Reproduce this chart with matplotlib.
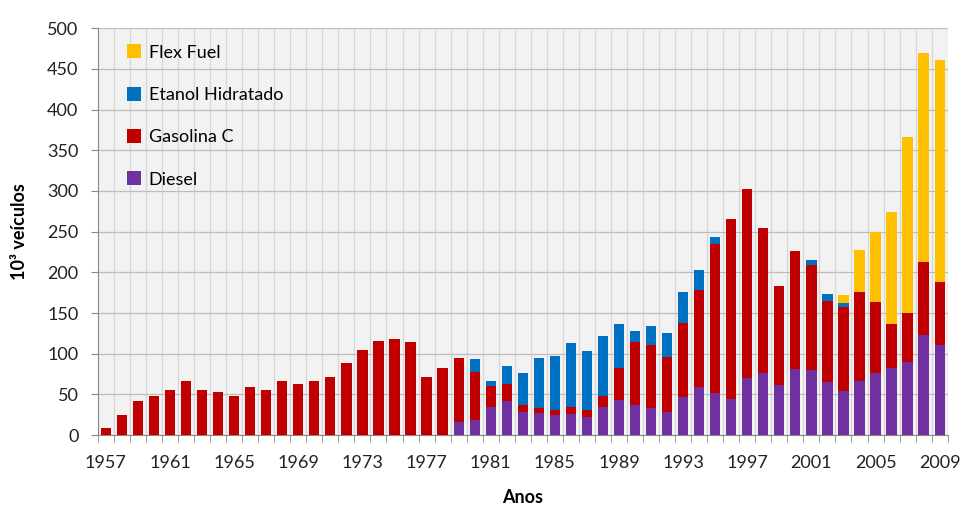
import numpy as np
import matplotlib.pyplot as plt

years = np.arange(1957, 2010)

diesel = [0, 0, 0, 0, 0, 0, 0, 0, 0, 0, 0, 0, 0, 0, 0, 0, 0, 0, 0, 0, 0, 0,
          16, 19, 35, 42, 29, 27, 25, 26, 22, 35, 43, 37, 34, 29, 47, 59, 52,
          45, 70, 77, 62, 81, 80, 65, 54, 67, 77, 82, 90, 123, 111]
gasolina_total = [9, 25, 42, 48, 55, 66, 55, 53, 48, 59, 55, 66, 63, 66, 72, 89,
                  105, 116, 118, 114, 71, 83, 95, 78, 60, 63, 37, 33, 31, 35, 31,
                  48, 82, 115, 111, 96, 138, 178, 235, 266, 303, 254, 183, 226,
                  209, 165, 158, 176, 164, 137, 150, 213, 188]
etanol_total = [0] * 23 + [93, 67, 85, 77, 95, 97, 113, 104, 122, 136, 128, 134,
                           126, 176, 203, 244, 266, 303, 254, 183, 226, 215, 174,
                           163, 176, 164, 137, 150, 213, 188]
flex_total = [0] * 46 + [172, 227, 250, 274, 366, 470, 461]

diesel = np.array(diesel)
gasolina = np.array(gasolina_total) - diesel
etanol = np.array(etanol_total) - np.array(gasolina_total)
etanol[:23] = 0
flex = np.array(flex_total) - np.array(etanol_total)
flex[:46] = 0

plt.rcParams['font.family'] = ['Lato', 'DejaVu Sans']

fig = plt.figure(figsize=(9.69, 5.12), dpi=100)
ax = fig.add_axes([0.101, 0.150, 0.877, 0.795])
ax.set_facecolor('#F2F2F2')

w = 0.64
ax.bar(years, diesel, w, color='#7030A0', label='Diesel', zorder=3)
ax.bar(years, gasolina, w, bottom=diesel, color='#C00000', label='Gasolina C', zorder=3)
ax.bar(years, etanol, w, bottom=diesel + gasolina, color='#0070C0',
       label='Etanol Hidratado', zorder=3)
ax.bar(years, flex, w, bottom=diesel + gasolina + etanol, color='#FFC000',
       label='Flex Fuel', zorder=3)

ax.set_xlim(1956.5, 2009.5)
ax.set_ylim(0, 500)
ax.set_yticks(np.arange(0, 501, 50))
ax.set_xticks(np.arange(1957, 2010, 4))
ax.set_xticks(np.arange(1956.5, 2010, 1), minor=True)
ax.grid(axis='y', color='#BDBDBD', linewidth=0.9, zorder=1)
ax.grid(axis='x', which='minor', color='#D6D6D6', linewidth=0.9, zorder=1)

ax.tick_params(axis='both', labelsize=13, colors='#222222')
ax.tick_params(axis='x', which='major', length=0, pad=14)
ax.tick_params(axis='x', which='minor', length=5, color='#888888')
ax.tick_params(axis='y', length=5, color='#888888', pad=9)
for s in ['top', 'right']:
    ax.spines[s].set_visible(False)
ax.spines['left'].set_color('#888888')
ax.spines['bottom'].set_color('#888888')

ax.set_xlabel('Anos', fontsize=13, fontweight='bold', labelpad=13)
ax.set_ylabel('10³ veículos', fontsize=13, fontweight='bold', labelpad=14)

h, l = ax.get_legend_handles_labels()
ax.legend(h[::-1], l[::-1], loc='upper left', frameon=False, fontsize=13,
          labelspacing=1.45, handlelength=0.8, handleheight=0.8,
          handletextpad=0.4, bbox_to_anchor=(0.015, 1.0))

fig.savefig('out.png', dpi=100)
